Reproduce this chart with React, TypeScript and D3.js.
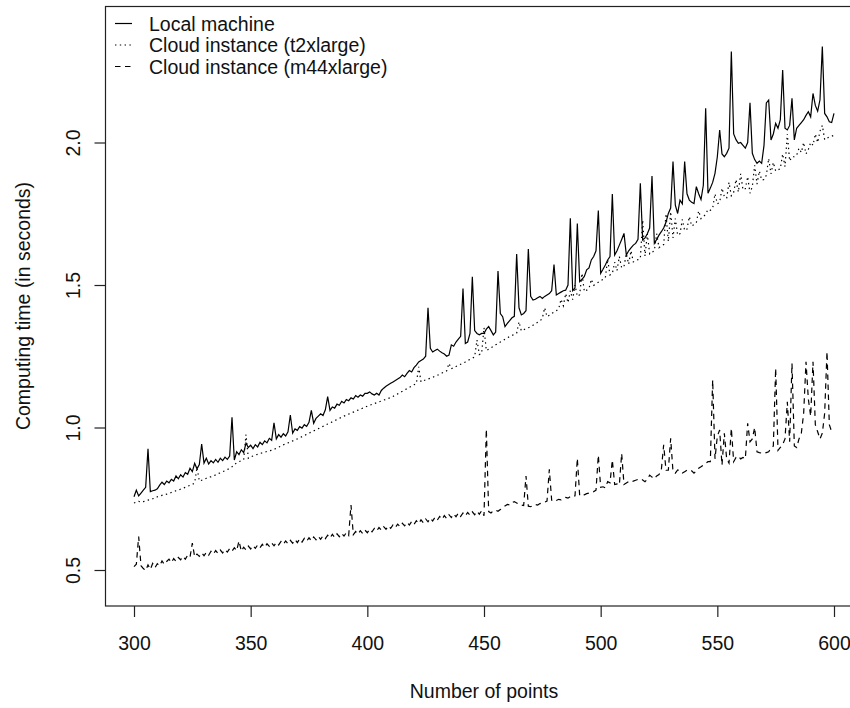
import React, { useRef, useEffect } from 'react';
import * as d3 from 'd3';

// number of points on the x axis: 300, 301, ... 600
const firstPoint = 300;

// computing time (s) on the local machine, one value per number of points
const localMachine = [
  0.757, 0.780, 0.760, 0.770, 0.780, 0.790, 0.925, 0.775, 0.778, 0.780,
  0.785, 0.798, 0.808, 0.800, 0.812, 0.806, 0.818, 0.812, 0.830, 0.820,
  0.834, 0.826, 0.842, 0.836, 0.857, 0.845, 0.874, 0.855, 0.870, 0.942,
  0.875, 0.892, 0.872, 0.884, 0.876, 0.888, 0.878, 0.892, 0.884, 0.896,
  0.888, 0.900, 1.036, 0.886, 0.915, 0.905, 0.922, 0.912, 0.945, 0.930,
  0.938, 0.926, 0.940, 0.932, 0.948, 0.940, 0.953, 0.946, 0.962, 0.955,
  1.016, 0.960, 0.975, 0.966, 0.978, 0.970, 0.985, 1.044, 0.980, 0.995,
  0.990, 1.003, 0.998, 1.010, 1.004, 1.018, 1.060, 1.015, 1.032, 1.040,
  1.048, 1.042, 1.062, 1.108, 1.060, 1.072, 1.068, 1.082, 1.078, 1.092,
  1.086, 1.098, 1.094, 1.104, 1.100, 1.112, 1.106, 1.114, 1.110, 1.120,
  1.120, 1.125, 1.118, 1.114, 1.120, 1.114, 1.130, 1.138, 1.145, 1.150,
  1.155, 1.160, 1.165, 1.170, 1.175, 1.184, 1.178, 1.190, 1.200, 1.195,
  1.210, 1.219, 1.230, 1.235, 1.240, 1.250, 1.420, 1.278, 1.265, 1.270,
  1.275, 1.268, 1.262, 1.258, 1.250, 1.254, 1.290, 1.285, 1.300, 1.310,
  1.320, 1.488, 1.295, 1.300, 1.330, 1.529, 1.340, 1.330, 1.325, 1.330,
  1.330, 1.345, 1.354, 1.340, 1.325, 1.335, 1.549, 1.400, 1.389, 1.354,
  1.365, 1.375, 1.385, 1.390, 1.609, 1.420, 1.395, 1.400, 1.410, 1.626,
  1.460, 1.447, 1.450, 1.455, 1.460, 1.453, 1.460, 1.465, 1.470, 1.480,
  1.572, 1.465, 1.470, 1.475, 1.480, 1.482, 1.500, 1.734, 1.480, 1.490,
  1.716, 1.512, 1.520, 1.530, 1.553, 1.560, 1.588, 1.600, 1.620, 1.761,
  1.541, 1.555, 1.570, 1.588, 1.600, 1.819, 1.605, 1.620, 1.640, 1.660,
  1.681, 1.605, 1.620, 1.630, 1.640, 1.646, 1.660, 1.857, 1.658, 1.665,
  1.680, 1.700, 1.882, 1.646, 1.660, 1.675, 1.687, 1.700, 1.720, 1.751,
  1.770, 1.933, 1.780, 1.751, 1.798, 1.785, 1.933, 1.820, 1.798, 1.790,
  1.786, 1.845, 1.820, 1.800, 1.850, 2.120, 1.822, 1.840, 1.860, 1.892,
  1.950, 2.044, 1.960, 1.950, 1.962, 1.980, 2.319, 2.030, 2.010, 1.997,
  2.000, 1.990, 1.980, 2.000, 2.139, 1.962, 1.940, 1.927, 1.935, 1.927,
  1.990, 2.139, 2.149, 2.009, 2.030, 2.067, 2.050, 2.080, 2.254, 2.050,
  2.044, 2.060, 2.155, 2.009, 2.050, 2.060, 2.070, 2.080, 2.095, 2.108,
  2.090, 2.172, 2.130, 2.110, 2.150, 2.337, 2.102, 2.090, 2.073, 2.070,
  2.102,
];

// cloud instance t2xlarge
const cloudT2 = [
  0.735, 0.738, 0.741, 0.738, 0.740, 0.742, 0.745, 0.747, 0.750, 0.752,
  0.757, 0.759, 0.762, 0.764, 0.766, 0.769, 0.772, 0.775, 0.778, 0.780,
  0.784, 0.787, 0.790, 0.794, 0.797, 0.800, 0.806, 0.860, 0.812, 0.815,
  0.818, 0.822, 0.826, 0.827, 0.830, 0.834, 0.838, 0.841, 0.845, 0.848,
  0.852, 0.857, 0.862, 0.870, 0.876, 0.880, 0.884, 0.887, 0.975, 0.892,
  0.897, 0.900, 0.903, 0.906, 0.909, 0.911, 0.913, 0.916, 0.918, 0.920,
  0.923, 0.927, 0.931, 0.935, 0.939, 0.943, 0.946, 0.950, 0.953, 0.957,
  0.960, 0.964, 0.968, 0.972, 0.976, 0.980, 0.984, 0.988, 0.992, 0.996,
  1.000, 1.004, 1.008, 1.012, 1.016, 1.020, 1.024, 1.028, 1.032, 1.036,
  1.040, 1.043, 1.047, 1.050, 1.054, 1.057, 1.061, 1.064, 1.068, 1.071,
  1.075, 1.078, 1.081, 1.084, 1.087, 1.090, 1.093, 1.096, 1.099, 1.102,
  1.105, 1.109, 1.114, 1.118, 1.123, 1.127, 1.132, 1.136, 1.141, 1.145,
  1.150, 1.154, 1.213, 1.160, 1.164, 1.167, 1.170, 1.173, 1.176, 1.180,
  1.183, 1.187, 1.191, 1.195, 1.199, 1.225, 1.206, 1.210, 1.214, 1.218,
  1.222, 1.226, 1.230, 1.235, 1.239, 1.243, 1.248, 1.307, 1.256, 1.260,
  1.350, 1.270, 1.275, 1.280, 1.285, 1.290, 1.295, 1.300, 1.305, 1.310,
  1.315, 1.319, 1.323, 1.327, 1.331, 1.371, 1.339, 1.343, 1.347, 1.350,
  1.354, 1.359, 1.364, 1.369, 1.374, 1.383, 1.420, 1.389, 1.394, 1.400,
  1.405, 1.410, 1.416, 1.450, 1.427, 1.470, 1.438, 1.480, 1.449, 1.500,
  1.460, 1.466, 1.541, 1.477, 1.482, 1.488, 1.520, 1.499, 1.504, 1.510,
  1.515, 1.520, 1.525, 1.590, 1.535, 1.540, 1.580, 1.550, 1.600, 1.560,
  1.565, 1.610, 1.573, 1.620, 1.581, 1.585, 1.589, 1.593, 1.728, 1.601,
  1.680, 1.609, 1.615, 1.620, 1.680, 1.631, 1.637, 1.642, 1.750, 1.653,
  1.757, 1.665, 1.733, 1.675, 1.680, 1.730, 1.691, 1.696, 1.740, 1.707,
  1.712, 1.719, 1.760, 1.733, 1.740, 1.748, 1.765, 1.762, 1.769, 1.820,
  1.785, 1.790, 1.840, 1.810, 1.804, 1.860, 1.813, 1.825, 1.870, 1.826,
  1.890, 1.834, 1.838, 1.880, 1.822, 1.846, 1.920, 1.854, 1.900, 1.868,
  1.870, 1.885, 1.944, 1.890, 1.930, 1.900, 1.904, 1.908, 1.960, 1.915,
  2.030, 1.935, 1.950, 1.950, 1.955, 1.980, 1.965, 2.000, 1.960, 1.975,
  2.000, 1.990, 2.030, 2.000, 2.040, 2.060, 2.010, 2.015, 2.020, 2.022,
  2.025,
];

// cloud instance m44xlarge
const cloudM44 = [
  0.512, 0.520, 0.617, 0.515, 0.505, 0.498, 0.518, 0.502, 0.523, 0.508,
  0.522, 0.515, 0.532, 0.520, 0.530, 0.538, 0.526, 0.540, 0.530, 0.544,
  0.536, 0.548, 0.538, 0.552, 0.545, 0.594, 0.546, 0.556, 0.548, 0.560,
  0.550, 0.562, 0.552, 0.566, 0.556, 0.568, 0.558, 0.570, 0.560, 0.572,
  0.563, 0.575, 0.566, 0.578, 0.568, 0.602, 0.566, 0.580, 0.570, 0.584,
  0.574, 0.586, 0.576, 0.588, 0.578, 0.590, 0.580, 0.592, 0.583, 0.595,
  0.585, 0.597, 0.588, 0.600, 0.590, 0.602, 0.592, 0.604, 0.594, 0.607,
  0.596, 0.609, 0.598, 0.611, 0.601, 0.613, 0.603, 0.616, 0.606, 0.618,
  0.608, 0.620, 0.610, 0.622, 0.612, 0.625, 0.614, 0.627, 0.617, 0.629,
  0.619, 0.631, 0.621, 0.728, 0.624, 0.635, 0.626, 0.638, 0.628, 0.640,
  0.631, 0.643, 0.634, 0.646, 0.637, 0.649, 0.640, 0.652, 0.643, 0.655,
  0.646, 0.658, 0.649, 0.661, 0.652, 0.664, 0.655, 0.667, 0.658, 0.670,
  0.660, 0.673, 0.663, 0.676, 0.666, 0.679, 0.669, 0.682, 0.672, 0.685,
  0.675, 0.688, 0.678, 0.691, 0.681, 0.694, 0.684, 0.697, 0.687, 0.700,
  0.688, 0.700, 0.690, 0.702, 0.692, 0.704, 0.694, 0.706, 0.696, 0.708,
  0.690, 0.994, 0.705, 0.700, 0.708, 0.710, 0.706, 0.712, 0.718, 0.725,
  0.730, 0.728, 0.736, 0.740, 0.735, 0.730, 0.728, 0.726, 0.830, 0.724,
  0.722, 0.726, 0.730, 0.728, 0.733, 0.735, 0.738, 0.742, 0.853, 0.745,
  0.740, 0.744, 0.748, 0.746, 0.752, 0.755, 0.752, 0.758, 0.756, 0.760,
  0.892, 0.762, 0.766, 0.764, 0.768, 0.770, 0.772, 0.775, 0.780, 0.903,
  0.790, 0.792, 0.788, 0.810, 0.806, 0.886, 0.800, 0.802, 0.798, 0.909,
  0.800, 0.805, 0.810, 0.808, 0.812, 0.815, 0.818, 0.820, 0.816, 0.810,
  0.818, 0.833, 0.826, 0.820, 0.830, 0.835, 0.851, 0.939, 0.850, 0.850,
  0.962, 0.845, 0.840, 0.851, 0.848, 0.840, 0.845, 0.850, 0.851, 0.848,
  0.840, 0.848, 0.857, 0.862, 0.868, 0.874, 0.880, 0.880, 1.167, 0.890,
  0.970, 0.991, 0.868, 0.980, 0.890, 0.875, 0.997, 0.880, 0.895, 0.900,
  0.890, 0.895, 0.890, 1.015, 0.950, 0.960, 1.000, 0.915, 0.912, 0.910,
  0.908, 0.912, 0.915, 0.927, 0.935, 1.208, 0.920, 0.930, 0.940, 0.960,
  1.090, 0.950, 1.225, 0.935, 0.930, 0.960, 0.980, 1.050, 1.231, 1.100,
  1.040, 1.231, 1.010, 0.985, 0.960, 0.980, 1.050, 1.266, 1.010, 0.985,
  0.985,
];

const xTicks = [300, 350, 400, 450, 500, 550, 600];
const yTicks = [0.5, 1.0, 1.5, 2.0];

const legendLabels = ['Local machine', 'Cloud instance (t2xlarge)', 'Cloud instance (m44xlarge)'];
const legendDashes = ['none', '1.4 3.4', '5.5 4.5'];

const font = '"Liberation Sans", Arial, sans-serif';

const Chart = ({ width, height }) => {

    const svg = useRef(null);

    useEffect(() => {
        const root = d3.select(svg.current);
        root.selectAll('*').remove();

        // R style: x range padded by 4% on each side, right edge falls off the picture
        const xScale = d3.scaleLinear()
            .domain([288, 612])
            .range([106, 862]);

        const yScale = d3.scaleLinear()
            .domain([0.3737, 2.4772])
            .range([606, 6.5]);

        const series = [localMachine, cloudT2, cloudM44];

        const line = d3.line()
            .x((d, i) => xScale(firstPoint + i))
            .y(d => yScale(d));

        const plot = root.append('g');

        series.forEach((values, k) => {
            plot.append('path')
                .datum(values)
                .attr('fill', 'none')
                .attr('stroke', '#000')
                .attr('stroke-width', 1.2)
                .attr('stroke-dasharray', legendDashes[k])
                .attr('d', line);
        });

        // box round the plot region
        root.append('rect')
            .attr('x', 105.5)
            .attr('y', 6.5)
            .attr('width', 760)
            .attr('height', 599.5)
            .attr('fill', 'none')
            .attr('stroke', '#222')
            .attr('stroke-width', 1.2);

        const bottomAxis = d3.axisBottom(xScale)
            .tickValues(xTicks)
            .tickSize(11)
            .tickPadding(19)
            .tickFormat(d3.format('d'));

        const gx = root.append('g')
            .attr('transform', 'translate(0, 606)')
            .call(bottomAxis);
        gx.select('.domain').remove();
        gx.selectAll('line').attr('stroke', '#222').attr('stroke-width', 1.2);
        gx.selectAll('text')
            .attr('fill', '#111')
            .style('font-family', font)
            .style('font-size', '19.5px');

        const leftAxis = d3.axisLeft(yScale)
            .tickValues(yTicks)
            .tickSize(11)
            .tickFormat(d3.format('.1f'));

        const gy = root.append('g')
            .attr('transform', 'translate(105.5, 0)')
            .call(leftAxis);
        gy.select('.domain').remove();
        gy.selectAll('line').attr('stroke', '#222').attr('stroke-width', 1.2);
        // labels are parallel to the axis, as in base R
        gy.selectAll('text')
            .attr('transform', 'rotate(-90)')
            .attr('x', 0)
            .attr('y', -25.5)
            .attr('dy', 0)
            .attr('fill', '#111')
            .style('text-anchor', 'middle')
            .style('font-family', font)
            .style('font-size', '19.5px');

        root.append('text')
            .attr('x', 484)
            .attr('y', 698)
            .attr('text-anchor', 'middle')
            .attr('fill', '#111')
            .style('font-family', font)
            .style('font-size', '19.5px')
            .text('Number of points');

        root.append('text')
            .attr('transform', 'translate(30, 306) rotate(-90)')
            .attr('text-anchor', 'middle')
            .attr('fill', '#111')
            .style('font-family', font)
            .style('font-size', '19.5px')
            .text('Computing time (in seconds)');

        // legend, no box
        const legend = root.append('g');
        legendLabels.forEach((label, k) => {
            const rowY = 23.5 + k * 21.5;
            legend.append('line')
                .attr('x1', 115)
                .attr('x2', 132)
                .attr('y1', rowY)
                .attr('y2', rowY)
                .attr('stroke', '#000')
                .attr('stroke-width', 1.2)
                .attr('stroke-dasharray', legendDashes[k]);
            legend.append('text')
                .attr('x', 149)
                .attr('y', rowY + 7)
                .attr('fill', '#111')
                .style('font-family', font)
                .style('font-size', '19.5px')
                .text(label);
        });
    }, []);

    return (
        <svg
            width={width}
            height={height}
            ref={svg}
            style={{ position: 'absolute', left: 0, top: 0, background: '#fff' }}
        >
        </svg>
    );
};

const App = () => <Chart width={850} height={708} />;

export default App;
